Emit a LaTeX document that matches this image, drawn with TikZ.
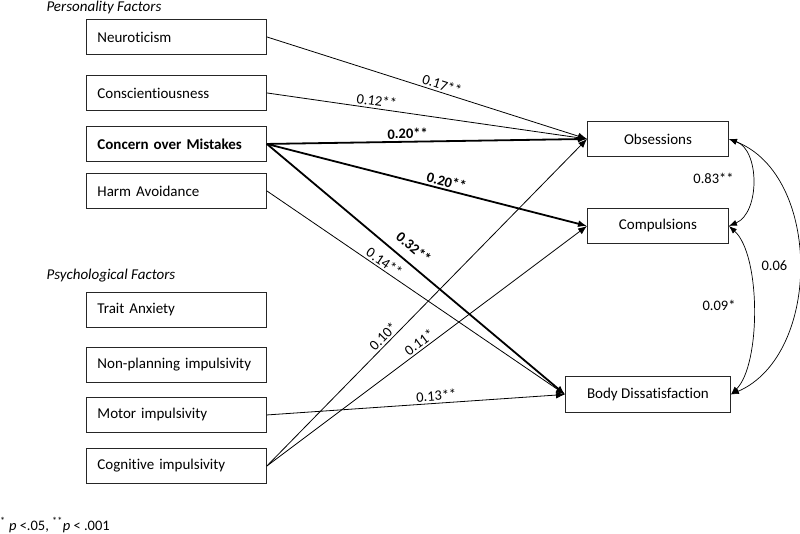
\documentclass[tikz,border=0pt]{standalone}
\usepackage{fontspec}
\setmainfont{Carlito}[Ligatures={NoCommon}]
\usetikzlibrary{arrows.meta}
\begin{document}
\begin{tikzpicture}[x=1pt,y=-1pt, font=\fontsize{15}{17}\selectfont,
  lbox/.style={draw=black!85, line width=0.9pt, minimum height=35pt, text width=158pt, inner xsep=11pt, align=left, anchor=north west},
  rbox/.style={draw=black!85, line width=0.9pt, minimum height=35pt, anchor=north west, align=center},
  arr/.style={line width=0.8pt, -{Latex[length=9pt,width=7pt]}},
  barr/.style={line width=1.8pt, -{Latex[length=9pt,width=7pt]}},
  dbl/.style={line width=0.7pt, {Latex[length=8pt,width=6pt]}-{Latex[length=8pt,width=6pt]}},
  lab/.style={sloped, above, inner sep=2pt, font=\fontsize{14.5}{16}\selectfont},
  blab/.style={lab, font=\fontsize{14.5}{16}\selectfont\bfseries},
  clab/.style={font=\fontsize{14.5}{16}\selectfont},
  head/.style={anchor=west, font=\fontsize{15}{17}\selectfont\itshape}]
\useasboundingbox (0,0) rectangle (800,533);

% headings
\node[head] (hpers) at (43,7) {Personality Factors};
\node[head] (hpsy) at (43,276) {Psychological Factors};

% left boxes
\node[lbox] (neu) at (86,19) {Neuroticism};
\node[lbox] (con) at (86,75) {Conscientiousness};
\node[lbox, font=\fontsize{15}{17}\selectfont\bfseries] (com) at (86,126) {Concern over Mistakes};
\node[lbox] (harm) at (86,173) {Harm Avoidance};
\node[lbox] (trait) at (86,292) {Trait Anxiety};
\node[lbox] (nonp) at (86,347) {Non-planning impulsivity};
\node[lbox] (motor) at (86,397) {Motor impulsivity};
\node[lbox] (cog) at (86,448) {Cognitive impulsivity};

% right boxes
\node[rbox, minimum width=141pt] (obs) at (587,121) {Obsessions};
\node[rbox, minimum width=141pt] (comp) at (587,208) {Compulsions};
\node[rbox, minimum width=165pt, minimum height=36pt] (body) at (565,376) {Body Dissatisfaction};

% paths
\draw[arr] (neu.east) -- node[lab, pos=0.54] {0.17**} (obs.west);
\draw[arr] (con.east) -- node[lab, pos=0.34] {0.12**} (obs.west);
\draw[barr] (com.east) -- node[blab, pos=0.44] {0.20**} (obs.west);
\draw[barr] (com.east) -- node[blab, pos=0.555] {0.20**} (comp.west);
\draw[barr] (com.east) -- node[blab, pos=0.46, above=7pt] {0.32**} (body.west);
\draw[arr] (harm.east) -- node[lab, pos=0.38] {0.14**} (body.west);
\draw[arr] (motor.east) -- node[lab, pos=0.57] {0.13**} (body.west);
\draw[arr] (cog.east) -- node[lab, pos=0.38] {0.10*} (obs.west);
\draw[arr] (cog.east) -- node[lab, pos=0.49] {0.11*} (comp.west);

% correlations
\draw[dbl] (obs.east) .. controls (760,150) and (760,213) .. node[midway, anchor=east, xshift=-15pt, yshift=3pt, clab] {0.83**} (comp.east);
\draw[dbl] (comp.east) .. controls (761,255) and (761,365) .. node[midway, anchor=east, xshift=-14pt, yshift=5pt, clab] {0.09*} (body.east);
\draw[dbl] (obs.east) .. controls (822,175) and (822,355) .. node[midway, anchor=east, xshift=-8pt, clab] {0.06} (body.east);

% footnote
\node[anchor=west, inner sep=0pt, font=\fontsize{14.5}{16}\selectfont] (foot) at (0,525) {\textsuperscript{*} \textit{p} <.05, \textsuperscript{**}\textit{p} < .001};
\end{tikzpicture}
\end{document}
